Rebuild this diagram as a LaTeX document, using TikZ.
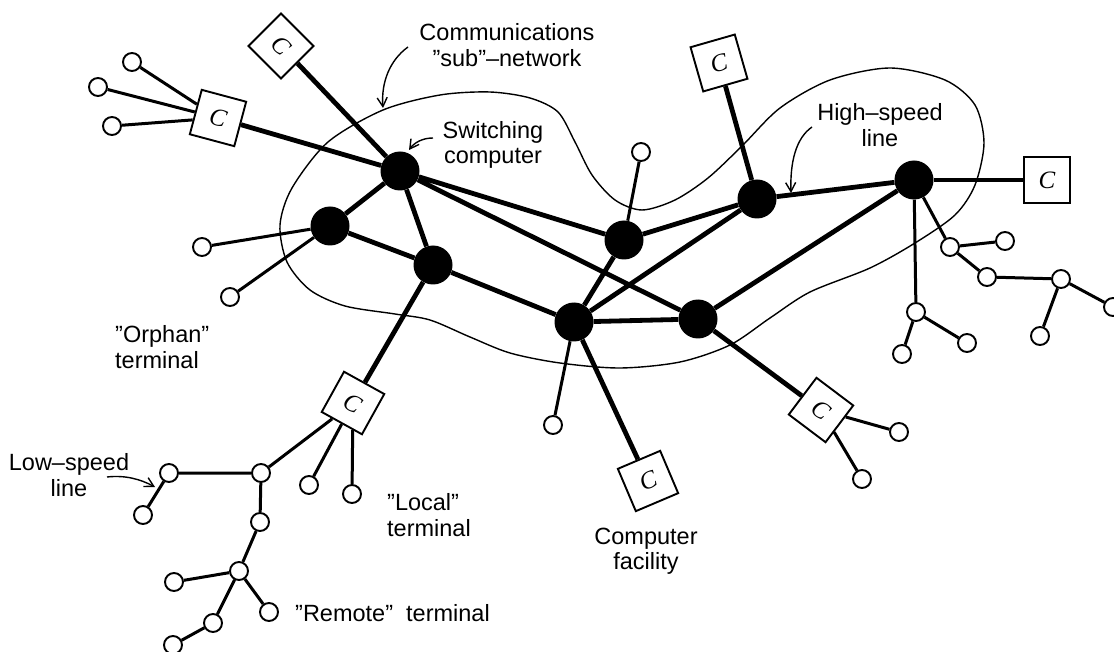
\documentclass[tikz,border=0pt]{standalone}
\usepackage{fontspec}
\setmainfont{Liberation Sans}
\newfontfamily\cfont{Liberation Serif}
\usetikzlibrary{arrows.meta}

\begin{document}
\begin{tikzpicture}[x=1pt,y=-1pt,
  sw/.style={circle,fill=black,minimum size=39pt,inner sep=0pt},
  term/.style={circle,draw,fill=white,line width=1.9pt,minimum size=18pt,inner sep=0pt},
  cbox/.style={rectangle,draw,fill=white,line width=1.9pt,minimum size=46pt,inner sep=0pt,font=\cfont\itshape\fontsize{25}{25}\selectfont},
  trunk/.style={line width=4.8pt},
  branch/.style={line width=3pt},
  lbl/.style={font=\fontsize{23.5}{25.5}\selectfont,inner sep=0pt},
  note/.style={line width=1.4pt,-{Straight Barb[length=9pt,width=10pt]}}]
\useasboundingbox (0,0) rectangle (1114,652);

\draw[line width=1.4pt] plot[smooth cycle] coordinates {(383,110) (440,95) (490,92) (530,98) (558,112) (575,142) (592,175) (615,200) (642,210) (675,200) (708,178) (742,146) (780,108) (830,80) (890,68) (945,80) (975,105) (984,143) (975,185) (955,215) (915,243) (870,268) (810,292) (770,318) (730,345) (680,362) (620,368) (560,363) (510,353) (470,337) (430,320) (395,314) (345,306) (310,290) (287,262) (280,225) (292,188) (328,142)};

\node[sw] (s1) at (400,171) {};
\node[sw] (s2) at (330,226) {};
\node[sw] (s3) at (433,265) {};
\node[sw] (s4) at (624,240) {};
\node[sw] (s5) at (757,199) {};
\node[sw] (s6) at (914,180) {};
\node[sw] (s7) at (574,322) {};
\node[sw] (s8) at (698,319) {};

\node[cbox,rotate=-15] (c1) at (218,118) {C};
\node[cbox,rotate=-45] (c2) at (281,46) {C};
\node[cbox,rotate=16] (c3) at (719,63) {C};
\node[cbox] (c4) at (1047,180) {C};
\node[cbox,rotate=-29] (c5) at (353,403) {C};
\node[cbox,rotate=23] (c6) at (648,481) {C};
\node[cbox,rotate=-37] (c7) at (821,410) {C};

\node[term] (a1) at (132,62) {};
\node[term] (a2) at (98,87) {};
\node[term] (a3) at (112,126) {};
\node[term] (b1) at (202,247) {};
\node[term] (b2) at (230,297) {};
\node[term] (d1) at (641,152) {};
\node[term] (e1) at (553,425) {};
\node[term] (f1) at (950,247) {};
\node[term] (f2) at (1005,241) {};
\node[term] (f3) at (987,277) {};
\node[term] (f4) at (1061,279) {};
\node[term] (f5) at (1113,307) {};
\node[term] (f6) at (1040,336) {};
\node[term] (g1) at (916,312) {};
\node[term] (g2) at (967,343) {};
\node[term] (g3) at (902,354) {};
\node[term] (h1) at (899,432) {};
\node[term] (h2) at (862,479) {};
\node[term] (u1) at (261,473) {};
\node[term] (u2) at (309,485) {};
\node[term] (u3) at (352,494) {};
\node[term] (u4) at (169,473) {};
\node[term] (u5) at (143,515) {};
\node[term] (u6) at (260,522) {};
\node[term] (u7) at (239,571) {};
\node[term] (u8) at (174,582) {};
\node[term] (u9) at (269,612) {};
\node[term] (u10) at (213,623) {};
\node[term] (u11) at (173,645) {};

\draw[trunk] (s1) -- (s2) (s1) -- (s3) (s1) -- (s4) (s1) -- (s8)
  (s2) -- (s3) (s3) -- (s7) (s4) -- (s5) (s4) -- (s7) (s5) -- (s7)
  (s5) -- (s6) (s6) -- (s8) (s7) -- (s8);
\draw[trunk] (s1) -- (c1) (s1) -- (c2) (s5) -- (c3) (s3) -- (c5)
  (s7) -- (c6) (s8) -- (c7);
\draw[line width=3.6pt] (s6) -- (c4);

\draw[branch] (c1) -- (a1) (c1) -- (a2) (c1) -- (a3);
\draw[branch] (s2) -- (b1) (s2) -- (b2) (s4) -- (d1) (s7) -- (e1);
\draw[branch] (s6) -- (f1) (f1) -- (f2) (f1) -- (f3) (f3) -- (f4) (f4) -- (f5) (f4) -- (f6);
\draw[branch] (s6) -- (g1) (g1) -- (g2) (g1) -- (g3);
\draw[branch] (c7) -- (h1) (c7) -- (h2);
\draw[branch] (c5) -- (u1) (c5) -- (u2) (c5) -- (u3);
\draw[branch] (u1) -- (u4) (u4) -- (u5) (u1) -- (u6) (u6) -- (u7)
  (u7) -- (u8) (u7) -- (u9) (u7) -- (u10) (u10) -- (u11);

\node[lbl,align=center] (comm) at (507,45) {Communications\\''sub''--network};
\node[lbl,align=center] (swl) at (493,145) {Switching\\computer};
\node[lbl,align=center] (hsl) at (880,125) {High--speed\\line};
\node[lbl,align=left,anchor=west] (orph) at (115,347) {''Orphan''\\terminal};
\node[lbl,align=center] (lsl) at (69,475) {Low--speed\\line};
\node[lbl,align=left,anchor=west] (locl) at (387,515) {''Local''\\terminal};
\node[lbl,align=center] (cfac) at (646,551) {Computer\\facility};
\node[lbl,anchor=west] (rem) at (295,613) {''Remote''\ \ terminal};

\coordinate (commtail) at (408,47);
\coordinate (commtip) at (383,108);
\coordinate (swtail) at (433,138);
\coordinate (swtip) at (409,150);
\coordinate (hstail) at (812,127);
\coordinate (hstip) at (791,193);
\coordinate (lstail) at (107,477);
\coordinate (lstip) at (155,487);
\draw[note] (commtail) .. controls (390,60) and (381,82) .. (commtip);
\draw[note] (swtail) .. controls (422,138) and (414,143) .. (swtip);
\draw[note] (hstail) .. controls (796,138) and (790,162) .. (hstip);
\draw[note] (lstail) .. controls (125,475) and (140,479) .. (lstip);

\end{tikzpicture}
\end{document}
